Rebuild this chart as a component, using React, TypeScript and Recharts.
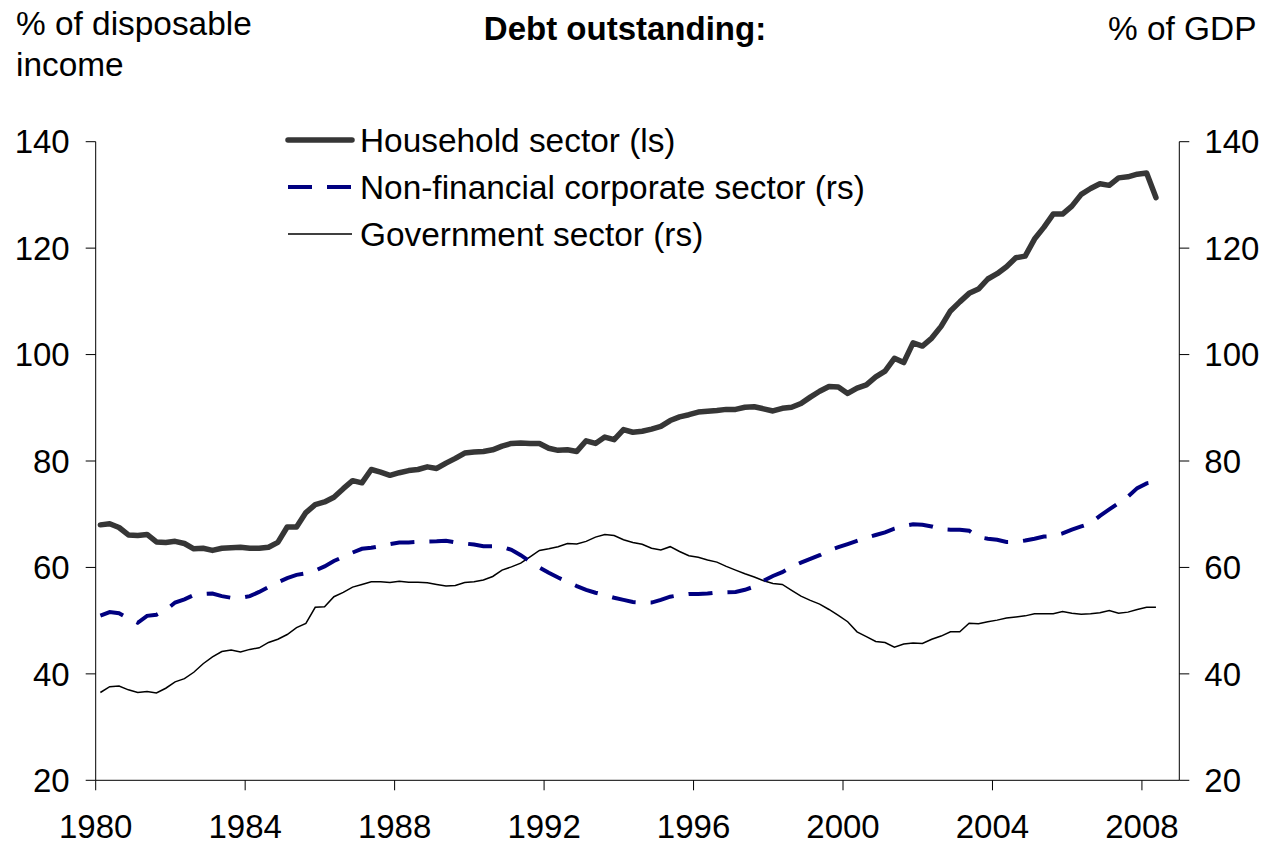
import React from 'react';
import { LineChart, Line, XAxis, YAxis, Legend } from 'recharts';

const FONT = "'Liberation Sans', Arial, Helvetica, sans-serif";

// Quarterly observations, 1980 Q1 .. 2008 Q2
const FIRST_QUARTER_YEAR = 1980;

const household = [
  68.0, 68.2, 67.5, 66.1, 66.0, 66.2, 64.8, 64.7, 64.9, 64.5,
  63.5, 63.6, 63.2, 63.6, 63.7, 63.8, 63.6, 63.6, 63.8, 64.7,
  67.6, 67.6, 70.3, 71.8, 72.3, 73.2, 74.8, 76.3, 75.9, 78.4,
  77.9, 77.3, 77.8, 78.2, 78.4, 78.9, 78.6, 79.6, 80.5, 81.5,
  81.7, 81.8, 82.1, 82.8, 83.3, 83.4, 83.3, 83.3, 82.4, 82.0,
  82.1, 81.8, 83.8, 83.3, 84.5, 84.0, 85.9, 85.4, 85.6, 86.0,
  86.5, 87.6, 88.3, 88.7, 89.2, 89.35, 89.5, 89.7, 89.7, 90.1,
  90.2, 89.8, 89.4, 89.9, 90.1, 90.8, 92.0, 93.1, 94.0, 93.9,
  92.7, 93.7, 94.3, 95.8, 96.9, 99.3, 98.5, 102.2, 101.6, 103.1,
  105.3, 108.2, 109.9, 111.5, 112.3, 114.2, 115.2, 116.5, 118.2, 118.5,
  121.7, 123.9, 126.4, 126.4, 127.9, 130.1, 131.2, 132.1, 131.8, 133.2,
  133.4, 133.9, 134.1, 129.5,
];

const corporate = [
  50.95, 51.6, 51.4, 50.4, 49.6, 50.9, 51.1, 52.0, 53.4, 54.0,
  54.8, 55.0, 55.1, 54.6, 54.3, 54.3, 54.6, 55.4, 56.3, 57.2,
  58.0, 58.6, 58.9, 59.4, 60.2, 61.2, 62.0, 62.8, 63.5, 63.7,
  64.0, 64.4, 64.7, 64.7, 64.8, 64.85, 64.9, 65.0, 64.7, 64.5,
  64.3, 64.0, 64.0, 63.9, 63.3, 62.3, 61.1, 60.0, 59.0, 58.1,
  57.3, 56.5, 55.8, 55.25, 54.8, 54.3, 53.9, 53.5, 53.4, 53.4,
  53.9, 54.5, 54.8, 55.0, 55.0, 55.1, 55.3, 55.35, 55.4, 55.8,
  56.4, 57.5, 58.4, 59.1, 60.1, 60.9, 61.6, 62.3, 63.2, 63.8,
  64.4, 65.0, 65.6, 66.1, 66.6, 67.3, 67.8, 68.1, 68.0, 67.7,
  67.2, 67.1, 67.1, 66.9, 65.7, 65.4, 65.2, 64.8, 64.8, 65.05,
  65.4, 65.8, 65.9, 66.4, 67.1, 67.7, 68.3, 69.7, 70.9, 72.1,
  73.3, 74.9, 75.8, 76.1,
];

const government = [
  36.5, 37.6, 37.7, 37.0, 36.5, 36.7, 36.4, 37.3, 38.5, 39.1,
  40.3, 41.9, 43.2, 44.2, 44.5, 44.1, 44.6, 44.9, 45.9, 46.5,
  47.4, 48.7, 49.5, 52.5, 52.6, 54.5, 55.3, 56.3, 56.8, 57.3,
  57.3, 57.15, 57.4, 57.2, 57.2, 57.1, 56.8, 56.5, 56.6, 57.15,
  57.3, 57.65, 58.3, 59.5, 60.1, 60.8, 62.0, 63.2, 63.5, 63.9,
  64.5, 64.4, 64.9, 65.7, 66.2, 66.0, 65.2, 64.7, 64.35, 63.6,
  63.3, 63.9, 63.0, 62.2, 61.9, 61.4, 61.0, 60.2, 59.5, 58.8,
  58.2, 57.5, 57.0, 56.8, 55.7, 54.6, 53.8, 53.1, 52.1, 51.0,
  49.8, 47.9, 47.0, 46.1, 45.9, 45.0, 45.6, 45.8, 45.7, 46.5,
  47.1, 47.9, 47.9, 49.5, 49.4, 49.8, 50.1, 50.5, 50.7, 50.9,
  51.3, 51.3, 51.3, 51.7, 51.4, 51.2, 51.3, 51.5, 51.9, 51.4,
  51.6, 52.1, 52.5, 52.5,
];

const xTicks = [1980, 1984, 1988, 1992, 1996, 2000, 2004, 2008];
const yTicks = [20, 40, 60, 80, 100, 120, 140];
const xDomain = [1980, 2009];
const yDomain = [20, 140];

const titleLeftLines = ['% of disposable', 'income'];
const titleCenter = 'Debt outstanding:';
const titleRight = '% of GDP';

const seriesLabels = {
  household: 'Household sector (ls)',
  corporate: 'Non-financial corporate sector (rs)',
  government: 'Government sector (rs)',
};

const styles = {
  household: { color: '#363636', width: 5.5, dash: undefined as string | undefined },
  corporate: { color: '#000080', width: 4, dash: '24 15' },
  government: { color: '#000000', width: 1.5, dash: undefined as string | undefined },
};

const data = household.map((h, i) => ({
  // mid-quarter time position
  t: FIRST_QUARTER_YEAR + 0.125 + i * 0.25,
  household: h,
  corporate: corporate[i],
  government: government[i],
}));

const legendOrder: Array<keyof typeof seriesLabels> = ['household', 'corporate', 'government'];

const TEXT_SIZE = 33.4;

const renderLegend = () => (
  <svg width={1266} height={300} style={{ display: 'block' }}>
    {legendOrder.map((k, idx) => {
      const y = 140 + idx * 47;
      const s = styles[k];
      return (
        <g key={k}>
          <line
            x1={288}
            x2={352}
            y1={y}
            y2={y}
            stroke={s.color}
            strokeWidth={s.width}
            strokeDasharray={s.dash}
            strokeLinecap={k === 'household' ? 'round' : 'butt'}
          />
          <text x={360} y={y + 12} fontFamily={FONT} fontSize={TEXT_SIZE} fill="#000">
            {seriesLabels[k]}
          </text>
        </g>
      );
    })}
  </svg>
);

const tickStyle = { fill: '#000', fontSize: 33, fontFamily: FONT };

export default function App() {
  return (
    <div style={{ position: 'absolute', left: 0, top: 0, width: 1266, height: 845, background: '#fff' }}>
      <LineChart
        width={1266}
        height={845}
        data={data}
        margin={{ top: 141.7, right: 0, bottom: 24.7, left: 0 }}
      >
        <XAxis
          dataKey="t"
          type="number"
          domain={xDomain}
          ticks={xTicks}
          interval={0}
          allowDataOverflow
          height={40}
          tickSize={10}
          tickMargin={24}
          axisLine={{ stroke: '#000', strokeWidth: 1 }}
          tickLine={{ stroke: '#000', strokeWidth: 1 }}
          tick={tickStyle}
        />
        <YAxis
          yAxisId="left"
          domain={yDomain}
          ticks={yTicks}
          interval={0}
          allowDataOverflow
          width={95.7}
          tickSize={10}
          tickMargin={16}
          axisLine={{ stroke: '#000', strokeWidth: 1 }}
          tickLine={{ stroke: '#000', strokeWidth: 1 }}
          tick={tickStyle}
        />
        <YAxis
          yAxisId="right"
          orientation="right"
          domain={yDomain}
          ticks={yTicks}
          interval={0}
          allowDataOverflow
          width={86.7}
          tickSize={10}
          tickMargin={15}
          axisLine={{ stroke: '#000', strokeWidth: 1 }}
          tickLine={{ stroke: '#000', strokeWidth: 1 }}
          tick={tickStyle}
        />
        <Legend
          layout="horizontal"
          verticalAlign="middle"
          align="center"
          content={renderLegend}
          wrapperStyle={{ left: 0, top: 0, width: 1266, height: 300 }}
        />
        <Line
          yAxisId="right"
          type="linear"
          dataKey="government"
          name={seriesLabels.government}
          stroke={styles.government.color}
          strokeWidth={styles.government.width}
          dot={false}
          activeDot={false}
          isAnimationActive={false}
        />
        <Line
          yAxisId="right"
          type="linear"
          dataKey="corporate"
          name={seriesLabels.corporate}
          stroke={styles.corporate.color}
          strokeWidth={styles.corporate.width}
          strokeDasharray={styles.corporate.dash}
          dot={false}
          activeDot={false}
          isAnimationActive={false}
        />
        <Line
          yAxisId="left"
          type="linear"
          dataKey="household"
          name={seriesLabels.household}
          stroke={styles.household.color}
          strokeWidth={styles.household.width}
          strokeLinecap="round"
          strokeLinejoin="round"
          dot={false}
          activeDot={false}
          isAnimationActive={false}
        />
      </LineChart>
      <svg
        width={1266}
        height={100}
        style={{ position: 'absolute', left: 0, top: 0, pointerEvents: 'none' }}
      >
        {titleLeftLines.map((line, i) => (
          <text key={i} x={16} y={35 + i * 40.5} fontFamily={FONT} fontSize={TEXT_SIZE} fill="#000">
            {line}
          </text>
        ))}
        <text x={625} y={40} textAnchor="middle" fontFamily={FONT} fontSize={33} fontWeight="bold" fill="#000">
          {titleCenter}
        </text>
        <text x={1108} y={40} fontFamily={FONT} fontSize={TEXT_SIZE} fill="#000">
          {titleRight}
        </text>
      </svg>
    </div>
  );
}
